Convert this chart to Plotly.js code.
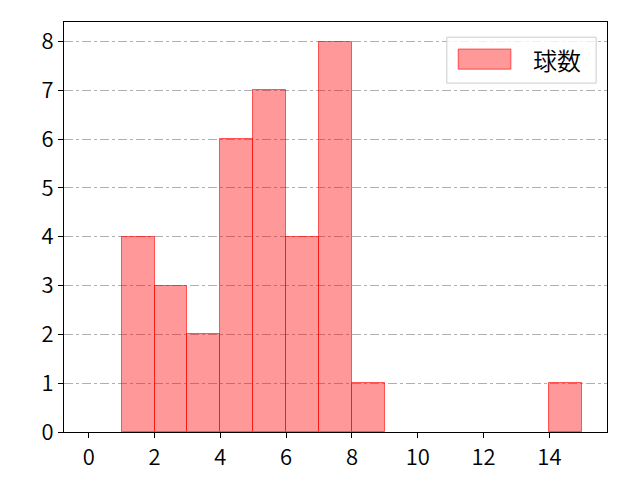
<!DOCTYPE html>
<html>
<head>
<meta charset="utf-8">
<script src="https://cdn.plot.ly/plotly-3.0.1.min.js"></script>
<style>body{margin:0;} #chart{width:640px;height:480px;}</style>
</head>
<body>
<div id="chart"></div>
<script>
// histogram bins (left edges) and counts
var binStarts = [1, 2, 3, 4, 5, 6, 7, 8, 9, 10, 11, 12, 13, 14];
var counts = [4, 3, 2, 6, 7, 4, 8, 1, 0, 0, 0, 0, 0, 1];
var binWidth = 1;
var seriesName = '球数';
var xTicks = [0, 2, 4, 6, 8, 10, 12, 14];
var yTicks = [0, 1, 2, 3, 4, 5, 6, 7, 8];

var fillColor = 'rgba(255,0,0,0.4)';
var edgeColor = 'rgba(255,0,0,0.6)';

var trace = {
    type: 'bar',
    x: binStarts.map(b => b + binWidth / 2),
    y: counts,
    width: binWidth,
    name: seriesName,
    showlegend: false,
    marker: {
        color: fillColor,
        // empty bins show no outline
        line: {color: edgeColor, width: counts.map(c => c > 0 ? 1 : 0)}
    }
};

var axisFont = {family: 'Noto Sans CJK JP, sans-serif', size: 22, weight: 350, color: '#000'};

// legend drawn by hand so the swatch matches a wide patch
var legendShapes = [
    {type: 'rect', xref: 'paper', yref: 'paper', x0: 0.705, x1: 0.980, y0: 0.851, y1: 0.963,
     fillcolor: 'rgba(255,255,255,0.8)', line: {color: '#cccccc', width: 1}},
    {type: 'rect', xref: 'paper', yref: 'paper', x0: 0.726, x1: 0.823, y0: 0.885, y1: 0.934,
     fillcolor: fillColor, line: {color: edgeColor, width: 1}}
];

var layout = {
    width: 640,
    height: 480,
    margin: {l: 64, r: 33, t: 22, b: 48},
    paper_bgcolor: '#fff',
    plot_bgcolor: '#fff',
    bargap: 0,
    showlegend: false,
    shapes: legendShapes,
    annotations: [{
        xref: 'paper', yref: 'paper', x: 0.908, y: 0.909,
        xanchor: 'center', yanchor: 'middle', showarrow: false,
        text: seriesName,
        font: {family: 'Noto Sans CJK JP, sans-serif', size: 24, weight: 350, color: '#000'}
    }],
    xaxis: {
        range: [-0.75, 15.75],
        tickvals: xTicks,
        ticktext: xTicks.map(String),
        ticks: 'outside',
        ticklen: 5,
        tickwidth: 1.2,
        tickcolor: '#000',
        showgrid: false,
        zeroline: false,
        showline: true,
        linecolor: '#000',
        linewidth: 1.2,
        mirror: true,
        tickfont: axisFont
    },
    yaxis: {
        range: [0, 8.4],
        tickvals: yTicks,
        ticks: 'outside',
        ticklen: 5,
        tickwidth: 1.2,
        tickcolor: '#000',
        showgrid: true,
        gridcolor: '#b0b0b0',
        griddash: 'dashdot',
        gridwidth: 1,
        zeroline: false,
        showline: true,
        linecolor: '#000',
        linewidth: 1.2,
        mirror: true,
        tickfont: axisFont
    }
};

Plotly.newPlot('chart', [trace], layout, {displayModeBar: false});
</script>
</body>
</html>
